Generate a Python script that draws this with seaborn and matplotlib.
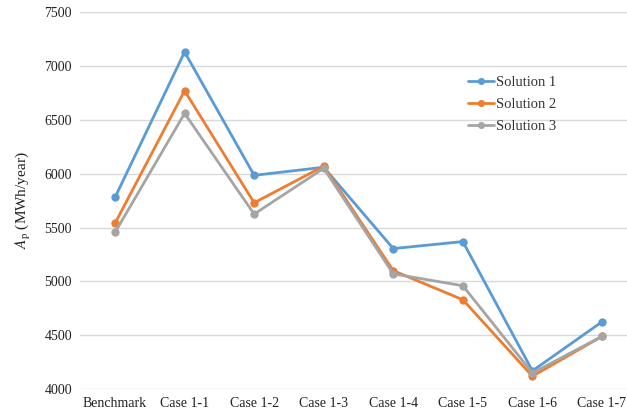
import pandas as pd
import numpy as np
import matplotlib
matplotlib.use('Agg')
import matplotlib.pyplot as plt
import seaborn as sns

# =========================
# DATA
# =========================

cases = ['Benchmark', 'Case 1-1', 'Case 1-2', 'Case 1-3',
         'Case 1-4', 'Case 1-5', 'Case 1-6', 'Case 1-7']

solution_1 = [5780, 7130, 5985, 6060, 5305, 5370, 4170, 4625]
solution_2 = [5540, 6770, 5730, 6070, 5100, 4830, 4120, 4490]
solution_3 = [5455, 6560, 5625, 6050, 5070, 4960, 4150, 4490]

series_names = ['Solution 1', 'Solution 2', 'Solution 3']
colors = ['#5B9BD5', '#ED7D31', '#A5A5A5']

df = pd.DataFrame({
    'case': cases * 3,
    'value': solution_1 + solution_2 + solution_3,
    'solution': np.repeat(series_names, len(cases)),
})

# =========================
# STYLE
# =========================

sns.set_style('white')
plt.rcParams['font.family'] = ['Liberation Serif', 'DejaVu Serif']
plt.rcParams['mathtext.fontset'] = 'stix'

fig = plt.figure(figsize=(6.27, 4.18), dpi=100)
ax = fig.add_axes([0.128, 0.069, 0.872, 0.902])

sns.lineplot(
    data=df,
    x='case',
    y='value',
    hue='solution',
    palette=colors,
    marker='o',
    markersize=6,
    markeredgewidth=0,
    linewidth=2,
    sort=False,
    ax=ax,
    zorder=3,
)

ax.set_ylim(4000, 7500)
ax.set_yticks(np.arange(4000, 7501, 500))
ax.set_xlim(-0.5, 7.36)
ax.grid(axis='y', color='#D9D9D9', linewidth=1)
ax.grid(axis='x', visible=False)
ax.set_axisbelow(True)
for s in ax.spines.values():
    s.set_visible(False)

ax.tick_params(axis='both', length=0, labelsize=10, labelcolor='#222222', pad=6)
ax.set_xlabel('')
ax.set_ylabel(r'$A_{\rm p}$ (MWh/year)', fontsize=11, color='#222222', labelpad=8)

leg = ax.legend(
    loc='upper left',
    bbox_to_anchor=(0.685, 0.865),
    frameon=False,
    fontsize=10.5,
    handlelength=1.8,
    handletextpad=0.15,
    labelspacing=0.6,
    markerscale=0.85,
)
for t in leg.get_texts():
    t.set_color('#333333')

fig.savefig('out.png', dpi=100)
